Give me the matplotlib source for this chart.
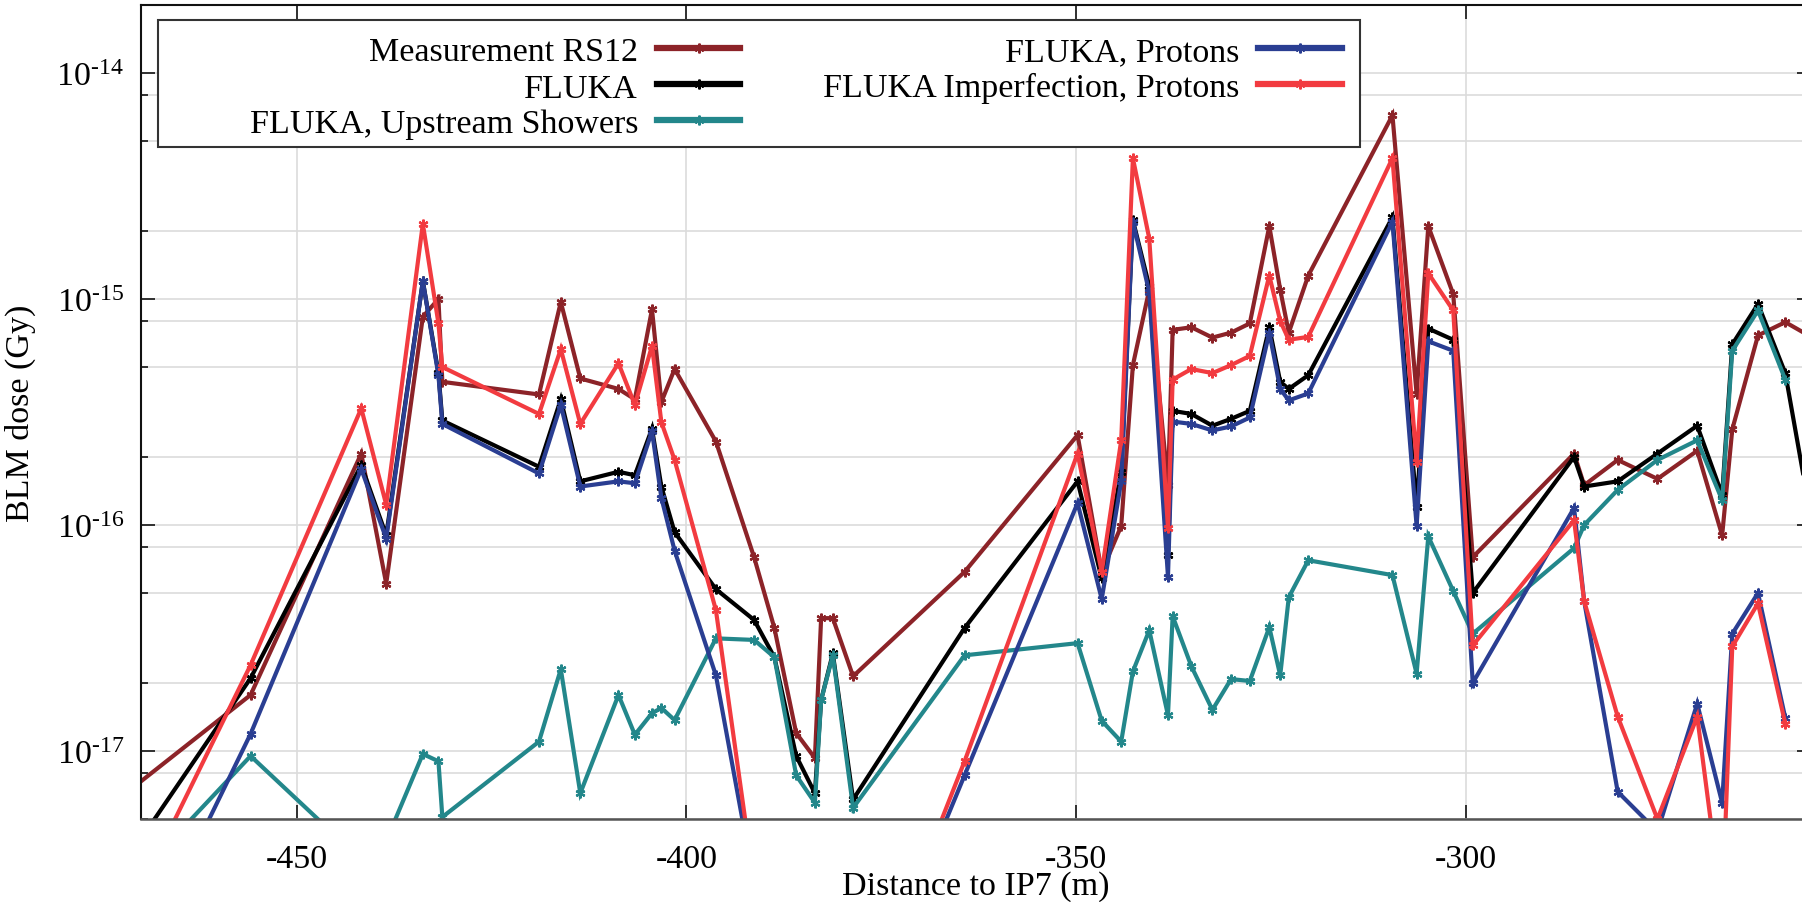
import numpy as np
import matplotlib
matplotlib.use("Agg")
import matplotlib.pyplot as plt
from matplotlib.ticker import LogLocator, FuncFormatter, NullFormatter
from matplotlib.lines import Line2D
from matplotlib.patches import Rectangle

plt.rcParams['font.family'] = ['Liberation Serif', 'DejaVu Serif']
plt.rcParams['mathtext.fontset'] = 'custom'
plt.rcParams['mathtext.rm'] = 'Liberation Serif'
plt.rcParams['mathtext.it'] = 'Liberation Serif:italic'
plt.rcParams['axes.unicode_minus'] = False

nan = np.nan

# BLM positions (m from IP7)
blm_pos = [-474.0, -455.9, -441.7, -438.5, -433.8, -431.8, -431.3, -418.9, -416.1, -413.6,
           -408.7, -406.6, -404.4, -403.2, -401.5, -396.2, -391.3, -388.7, -385.9, -383.5,
           -382.7, -381.2, -378.6, -364.3, -349.8, -346.7, -344.2, -342.7, -340.6, -338.2,
           -337.6, -335.2, -332.5, -330.1, -327.7, -325.2, -323.8, -322.7, -320.2, -309.4,
           -306.3, -304.8, -301.6, -299.1, -286.1, -284.8, -280.5, -275.4, -270.3, -267.1,
           -265.8, -262.5, -259.0, -254.0]

dose_meas = [5.7e-18, 1.77e-17, 2.07e-16, 5.5e-17, 8.35e-16, 1.0e-15, 4.3e-16, 3.78e-16, 9.7e-16, 4.45e-16,
             4.0e-16, 3.6e-16, 9.0e-16, 3.5e-16, 4.9e-16, 2.34e-16, 7.2e-17, 3.5e-17, 1.2e-17, 9.3e-18,
             3.87e-17, 3.87e-17, 2.14e-17, 6.2e-17, 2.5e-16, 6.2e-17, 9.9e-17, 5.1e-16, 1.1e-15, 1.5e-16,
             7.3e-16, 7.5e-16, 6.75e-16, 7.1e-16, 7.8e-16, 2.1e-15, 1.1e-15, 7.1e-16, 1.27e-15, 6.5e-15,
             3.8e-16, 2.1e-15, 1.05e-15, 7.2e-17, 2.07e-16, 1.5e-16, 1.94e-16, 1.6e-16, 2.13e-16, 9.0e-17,
             2.65e-16, 6.9e-16, 7.9e-16, 6.3e-16]

dose_fluka = [2.55e-18, 2.1e-17, 1.84e-16, 9.0e-17, 1.2e-15, 4.7e-16, 2.9e-16, 1.81e-16, 3.6e-16, 1.56e-16,
              1.72e-16, 1.66e-16, 2.67e-16, 1.48e-16, 9.3e-17, 5.2e-17, 3.8e-17, 2.6e-17, 9.5e-18, 6.5e-18,
              1.68e-17, 2.7e-17, 6.1e-18, 3.5e-17, 1.56e-16, 5.8e-17, 1.72e-16, 2.23e-15, 1.14e-15, 7.4e-17,
              3.2e-16, 3.1e-16, 2.75e-16, 2.95e-16, 3.2e-16, 7.5e-16, 4.3e-16, 4.0e-16, 4.6e-16, 2.3e-15,
              1.2e-16, 7.4e-16, 6.6e-16, 5.0e-17, 2.0e-16, 1.48e-16, 1.56e-16, 2.07e-16, 2.75e-16, 1.36e-16,
              6.3e-16, 9.5e-16, 4.7e-16, 5.0e-17]

dose_upstream = [2.06e-18, 9.5e-18, 3.3e-18, 4.0e-18, 9.7e-18, 9.0e-18, 5.1e-18, 1.1e-17, 2.3e-17, 6.5e-18,
                 1.77e-17, 1.18e-17, 1.47e-17, 1.55e-17, 1.37e-17, 3.15e-17, 3.1e-17, 2.6e-17, 7.8e-18, 5.9e-18,
                 1.68e-17, 2.65e-17, 5.6e-18, 2.65e-17, 3.0e-17, 1.36e-17, 1.1e-17, 2.25e-17, 3.42e-17, 1.44e-17,
                 3.95e-17, 2.37e-17, 1.52e-17, 2.08e-17, 2.04e-17, 3.53e-17, 2.16e-17, 4.79e-17, 6.98e-17, 6.0e-17,
                 2.2e-17, 8.9e-17, 5.1e-17, 3.3e-17, 7.9e-17, 1.0e-16, 1.43e-16, 1.94e-16, 2.37e-16, 1.29e-16,
                 5.9e-16, 8.9e-16, 4.4e-16, nan]

dose_protons = [6.2e-19, 1.19e-17, 1.77e-16, 8.7e-17, 1.2e-15, 4.6e-16, 2.8e-16, 1.69e-16, 3.4e-16, 1.48e-16,
                1.56e-16, 1.53e-16, 2.6e-16, 1.32e-16, 7.7e-17, 2.16e-17, 2.6e-18, 1.5e-18, 1.0e-18, 1.0e-18,
                1.0e-18, 1.0e-18, 5.0e-19, 7.8e-18, 1.25e-16, 4.7e-17, 1.56e-16, 2.2e-15, 1.07e-15, 5.9e-17,
                2.87e-16, 2.8e-16, 2.62e-16, 2.73e-16, 2.99e-16, 7.1e-16, 4.0e-16, 3.56e-16, 3.82e-16, 2.2e-15,
                9.9e-17, 6.5e-16, 5.9e-16, 2.0e-17, 1.19e-16, 4.6e-17, 6.6e-18, 4.4e-18, 1.62e-17, 5.9e-18,
                3.3e-17, 5.0e-17, 1.4e-17, nan]

dose_imperf = [1.28e-18, 2.4e-17, 3.28e-16, 1.23e-16, 2.15e-15, 7.8e-16, 5.0e-16, 3.1e-16, 6.0e-16, 2.8e-16,
               5.2e-16, 3.4e-16, 6.2e-16, 2.85e-16, 1.94e-16, 4.2e-17, 2.6e-18, 1.5e-18, 1.0e-18, 1.0e-18,
               1.0e-18, 1.0e-18, 5.0e-19, 9.0e-18, 2.07e-16, 6.2e-17, 2.37e-16, 4.2e-15, 1.85e-15, 9.7e-17,
               4.4e-16, 4.9e-16, 4.7e-16, 5.1e-16, 5.6e-16, 1.27e-15, 8.0e-16, 6.6e-16, 6.8e-16, 4.2e-15,
               1.9e-16, 1.3e-15, 8.9e-16, 2.93e-17, 1.05e-16, 4.6e-17, 1.42e-17, 5.0e-18, 1.42e-17, 2.0e-18,
               2.9e-17, 4.5e-17, 1.32e-17, nan]

labels = ['Measurement RS12', 'FLUKA', 'FLUKA, Upstream Showers',
          'FLUKA, Protons', 'FLUKA Imperfection, Protons']
colors = ['#8c2328', '#000000', '#23878b', '#2a3e92', '#f23b40']
series = [dose_meas, dose_fluka, dose_upstream, dose_protons, dose_imperf]

W, H = 1802, 903
fig = plt.figure(figsize=(W / 100, H / 100), dpi=100)
ax = fig.add_axes([140.7 / W, 83 / H, (1811 - 140.7) / W, 814 / H])

star = (6, 2, 0)
for vals, col in zip(series, colors):
    ax.plot(blm_pos, vals, color=col, lw=3.0, marker=star, ms=7, mew=1.6,
            solid_joinstyle='miter')

ax.set_yscale('log')
ax.set_xlim(-470.0, -255.7)
ax.set_ylim(5e-18, 2e-14)

HY = '\u2010'
ax.set_xticks([-450, -400, -350, -300])
ax.yaxis.set_major_locator(LogLocator(base=10, subs=[1.0]))
ax.yaxis.set_minor_locator(LogLocator(base=10, subs=[2.0, 5.0, 8.0]))
ax.yaxis.set_minor_formatter(NullFormatter())
ax.yaxis.set_major_formatter(FuncFormatter(
    lambda v, p: '$10^{\\mathregular{' + HY + '%d}}$' % round(-np.log10(v))))

ax.grid(True, which='major', axis='x', color='#dcdcdc', lw=1.2)
ax.grid(True, which='both', axis='y', color='#dcdcdc', lw=1.2)
ax.set_axisbelow(True)

ax.tick_params(which='both', direction='in', top=True, right=True,
               labelsize=24.5, width=1.3, colors='#222222', labelcolor='black')
ax.tick_params(which='major', length=10)
ax.tick_params(which='minor', length=5)
ax.tick_params(axis='x', pad=18)
ax.tick_params(axis='y', pad=12)

for s in ['top', 'left']:
    ax.spines[s].set_color('#111111')
    ax.spines[s].set_linewidth(1.5)
ax.spines['bottom'].set_color('#555555')
ax.spines['bottom'].set_linewidth(1.8)

fig.text(20 / W, 1 - 413 / H, 'BLM dose (Gy)', rotation=90, ha='center', va='center', fontsize=24.5)
fig.text(976 / W, 1 - 895 / H, 'Distance to IP7 (m)', ha='center', va='baseline', fontsize=24.5)

# legend box (text right-aligned before the sample, two columns)
fig.add_artist(Rectangle((158 / W, 1 - 147.7 / H), (1360 - 158) / W, (147.7 - 20.7) / H,
                         transform=fig.transFigure, facecolor='white', edgecolor='#333333',
                         lw=1.5, zorder=5))
col_text_x = [638, 1239.6]
col_line_x = [(657, 740), (1258, 1342)]
rows = [(0, 0), (0, 1), (0, 2), (1, 0), (1, 1)]
baselines = [61, 97.5, 133]
for (c, r), lab, col in zip(rows, labels, colors):
    yb = baselines[r]
    fig.text(col_text_x[c] / W, 1 - yb / H, lab, ha='right', va='baseline', fontsize=24.5, zorder=6)
    x0, x1 = col_line_x[c]
    yl = 1 - (yb - 12.5) / H
    fig.add_artist(Line2D([x0 / W, (x0 + x1) / 2 / W, x1 / W], [yl, yl, yl],
                          transform=fig.transFigure, color=col, lw=4.5, marker=star,
                          ms=7, mew=1.6, markevery=[1], zorder=6))

fig.savefig('out.png', dpi=100)
